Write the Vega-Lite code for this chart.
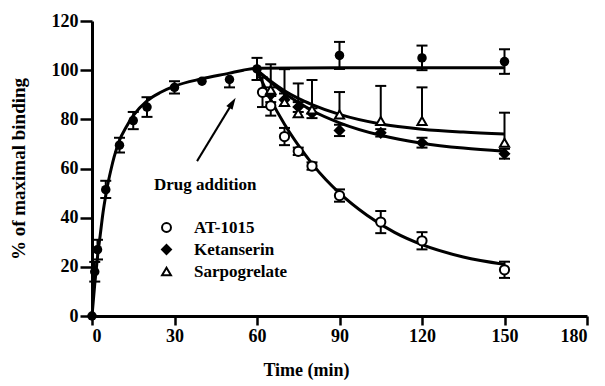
{
  "$schema": "https://vega.github.io/schema/vega-lite/v6.json",
  "width": 495,
  "height": 295,
  "autosize": {"type": "none"},
  "padding": {"left": 92, "top": 21, "right": 18, "bottom": 70},
  "background": "white",
  "config": {
    "view": {"stroke": null},
    "font": "Liberation Serif",
    "axis": {
      "grid": false,
      "domainColor": "black",
      "domainWidth": 3,
      "tickColor": "black",
      "tickWidth": 2.5,
      "labelFont": "Liberation Serif",
      "labelFontWeight": "bold",
      "labelFontSize": 18,
      "labelColor": "black",
      "titleFont": "Liberation Serif",
      "titleFontWeight": "bold",
      "titleColor": "black"
    },
    "legend": {
      "orient": "none",
      "legendX": 66,
      "legendY": 198,
      "title": null,
      "labelFont": "Liberation Serif",
      "labelFontWeight": "bold",
      "labelFontSize": 17,
      "labelColor": "black",
      "symbolStrokeWidth": 2,
      "symbolSize": 80,
      "rowPadding": 4,
      "labelOffset": 19,
      "padding": 0
    }
  },
  "datasets": {
    "pts": [
      {"series": "Control", "t": 0, "y": 0, "lo": 0, "hi": 0},
      {"series": "Control", "t": 1, "y": 18, "lo": 14, "hi": 22},
      {"series": "Control", "t": 2, "y": 27, "lo": 23, "hi": 31},
      {"series": "Control", "t": 5, "y": 51.4, "lo": 48, "hi": 55},
      {"series": "Control", "t": 10, "y": 69.5, "lo": 66.5, "hi": 72.5},
      {"series": "Control", "t": 15, "y": 79.5, "lo": 76, "hi": 83},
      {"series": "Control", "t": 20, "y": 85, "lo": 81, "hi": 89},
      {"series": "Control", "t": 30, "y": 93, "lo": 90.5, "hi": 95.5},
      {"series": "Control", "t": 40, "y": 95.5, "lo": 95.5, "hi": 95.5},
      {"series": "Control", "t": 50, "y": 96.2, "lo": 93, "hi": 96.2},
      {"series": "Control", "t": 60, "y": 100.5, "lo": 96, "hi": 105},
      {"series": "Control", "t": 90, "y": 106, "lo": 100.5, "hi": 111.5},
      {"series": "Control", "t": 120, "y": 105, "lo": 100, "hi": 110},
      {"series": "Control", "t": 150, "y": 103.5, "lo": 98.5, "hi": 108.5},
      {"series": "AT-1015", "t": 62, "y": 91, "lo": 85, "hi": 97},
      {"series": "AT-1015", "t": 65, "y": 85.5, "lo": 81.5, "hi": 89.5},
      {"series": "AT-1015", "t": 70, "y": 73, "lo": 69.5, "hi": 76.5},
      {"series": "AT-1015", "t": 75, "y": 67, "lo": 65.5, "hi": 68.5},
      {"series": "AT-1015", "t": 80, "y": 61, "lo": 59.5, "hi": 62.5},
      {"series": "AT-1015", "t": 90, "y": 49, "lo": 46.5, "hi": 51.5},
      {"series": "AT-1015", "t": 105, "y": 38.2, "lo": 33.7, "hi": 42.7},
      {"series": "AT-1015", "t": 120, "y": 30.6, "lo": 27.1, "hi": 34.1},
      {"series": "AT-1015", "t": 150, "y": 18.8, "lo": 15.5, "hi": 22.1},
      {"series": "Ketanserin", "t": 65, "y": 90, "lo": 87, "hi": 93},
      {"series": "Ketanserin", "t": 70, "y": 88, "lo": 85.5, "hi": 90.5},
      {"series": "Ketanserin", "t": 75, "y": 85, "lo": 83, "hi": 87},
      {"series": "Ketanserin", "t": 80, "y": 82.5, "lo": 80.5, "hi": 84.5},
      {"series": "Ketanserin", "t": 90, "y": 75.5, "lo": 73.2, "hi": 77.8},
      {"series": "Ketanserin", "t": 105, "y": 74.5, "lo": 73, "hi": 76},
      {"series": "Ketanserin", "t": 120, "y": 70.5, "lo": 68.5, "hi": 72.5},
      {"series": "Ketanserin", "t": 150, "y": 66, "lo": 64, "hi": 68},
      {"series": "Sarpogrelate", "t": 65, "y": 92, "lo": 92, "hi": 102.4},
      {"series": "Sarpogrelate", "t": 70, "y": 87, "lo": 87, "hi": 100.4},
      {"series": "Sarpogrelate", "t": 75, "y": 82.5, "lo": 82.5, "hi": 94.6},
      {"series": "Sarpogrelate", "t": 80, "y": 84, "lo": 84, "hi": 96},
      {"series": "Sarpogrelate", "t": 90, "y": 82, "lo": 82, "hi": 91.1},
      {"series": "Sarpogrelate", "t": 105, "y": 79.3, "lo": 79.3, "hi": 93.6},
      {"series": "Sarpogrelate", "t": 120, "y": 79.3, "lo": 79.3, "hi": 93},
      {"series": "Sarpogrelate", "t": 150, "y": 70.5, "lo": 70.5, "hi": 82.7}
    ],
    "fit": [
      {"series": "Control", "t": 0, "y": 0},
      {"series": "Control", "t": 1, "y": 13},
      {"series": "Control", "t": 2, "y": 24},
      {"series": "Control", "t": 3, "y": 33},
      {"series": "Control", "t": 4, "y": 42},
      {"series": "Control", "t": 5, "y": 49},
      {"series": "Control", "t": 6, "y": 55},
      {"series": "Control", "t": 7, "y": 60},
      {"series": "Control", "t": 8, "y": 64.5},
      {"series": "Control", "t": 10, "y": 71.5},
      {"series": "Control", "t": 12.5, "y": 77},
      {"series": "Control", "t": 15, "y": 81.5},
      {"series": "Control", "t": 20, "y": 87.5},
      {"series": "Control", "t": 25, "y": 91},
      {"series": "Control", "t": 30, "y": 93.5},
      {"series": "Control", "t": 40, "y": 96.5},
      {"series": "Control", "t": 50, "y": 98.8},
      {"series": "Control", "t": 55, "y": 100},
      {"series": "Control", "t": 60, "y": 100.8},
      {"series": "Control", "t": 90, "y": 101},
      {"series": "Control", "t": 120, "y": 101},
      {"series": "Control", "t": 150, "y": 101},
      {"series": "AT-1015", "t": 60, "y": 100},
      {"series": "AT-1015", "t": 62, "y": 95},
      {"series": "AT-1015", "t": 65, "y": 88},
      {"series": "AT-1015", "t": 70, "y": 78},
      {"series": "AT-1015", "t": 75, "y": 69.5},
      {"series": "AT-1015", "t": 80, "y": 62},
      {"series": "AT-1015", "t": 85, "y": 55.5},
      {"series": "AT-1015", "t": 90, "y": 50},
      {"series": "AT-1015", "t": 100, "y": 41},
      {"series": "AT-1015", "t": 110, "y": 34},
      {"series": "AT-1015", "t": 120, "y": 29},
      {"series": "AT-1015", "t": 135, "y": 24},
      {"series": "AT-1015", "t": 150, "y": 21},
      {"series": "Ketanserin", "t": 60, "y": 100},
      {"series": "Ketanserin", "t": 65, "y": 95},
      {"series": "Ketanserin", "t": 70, "y": 90.5},
      {"series": "Ketanserin", "t": 75, "y": 87},
      {"series": "Ketanserin", "t": 80, "y": 83.6},
      {"series": "Ketanserin", "t": 90, "y": 78.6},
      {"series": "Ketanserin", "t": 105, "y": 73.5},
      {"series": "Ketanserin", "t": 120, "y": 70.3},
      {"series": "Ketanserin", "t": 135, "y": 68.3},
      {"series": "Ketanserin", "t": 150, "y": 67},
      {"series": "Sarpogrelate", "t": 60, "y": 100},
      {"series": "Sarpogrelate", "t": 65, "y": 95.5},
      {"series": "Sarpogrelate", "t": 70, "y": 91.6},
      {"series": "Sarpogrelate", "t": 75, "y": 88.5},
      {"series": "Sarpogrelate", "t": 80, "y": 86},
      {"series": "Sarpogrelate", "t": 90, "y": 82},
      {"series": "Sarpogrelate", "t": 105, "y": 78.1},
      {"series": "Sarpogrelate", "t": 120, "y": 76},
      {"series": "Sarpogrelate", "t": 135, "y": 74.8},
      {"series": "Sarpogrelate", "t": 150, "y": 74}
    ],
    "arrow": [{"t": 38.2, "y": 63, "t2": 51.1, "y2": 86.7}],
    "note": [{"t": 41.2, "y": 53.1, "label": "Drug addition"}]
  },
  "layer": [
    {
      "data": {"name": "pts"},
      "mark": {"type": "rule", "color": "black", "strokeWidth": 2},
      "encoding": {
        "x": {"field": "t", "type": "quantitative", "scale": {"domain": [0, 180], "nice": false},
              "axis": {"values": [0, 30, 60, 90, 120, 150, 180], "title": "Time (min)", "titleFontSize": 18, "titleX": 214, "titleY": 45, "tickSize": 9, "labelPadding": 2}},
        "y": {"field": "lo", "type": "quantitative", "scale": {"domain": [0, 120], "nice": false},
              "axis": {"values": [0, 20, 40, 60, 80, 100, 120], "title": "% of maximal binding", "titleFontSize": 19, "titleX": -64, "tickSize": 12, "labelPadding": 2}},
        "y2": {"field": "hi"}
      }
    },
    {
      "data": {"name": "pts"},
      "transform": [{"filter": "datum.hi > datum.y"}],
      "mark": {"type": "tick", "orient": "horizontal", "color": "black", "size": 11, "thickness": 2, "opacity": 1},
      "encoding": {
        "x": {"field": "t", "type": "quantitative"},
        "y": {"field": "hi", "type": "quantitative"}
      }
    },
    {
      "data": {"name": "pts"},
      "transform": [{"filter": "datum.lo < datum.y"}],
      "mark": {"type": "tick", "orient": "horizontal", "color": "black", "size": 11, "thickness": 2, "opacity": 1},
      "encoding": {
        "x": {"field": "t", "type": "quantitative"},
        "y": {"field": "lo", "type": "quantitative"}
      }
    },
    {
      "data": {"name": "fit"},
      "mark": {"type": "line", "color": "black", "strokeWidth": 3, "interpolate": "monotone"},
      "encoding": {
        "x": {"field": "t", "type": "quantitative"},
        "y": {"field": "y", "type": "quantitative"},
        "detail": {"field": "series"}
      }
    },
    {
      "data": {"name": "pts"},
      "transform": [{"filter": "datum.series == 'Control'"}],
      "mark": {"type": "point", "shape": "circle", "filled": true, "color": "black", "size": 90, "opacity": 1},
      "encoding": {
        "x": {"field": "t", "type": "quantitative"},
        "y": {"field": "y", "type": "quantitative"}
      }
    },
    {
      "data": {"name": "pts"},
      "transform": [{"filter": "datum.series != 'Control'"}],
      "mark": {"type": "point", "strokeWidth": 2, "size": 85, "opacity": 1, "fillOpacity": 1, "strokeOpacity": 1},
      "encoding": {
        "x": {"field": "t", "type": "quantitative"},
        "y": {"field": "y", "type": "quantitative"},
        "shape": {"field": "series", "type": "nominal",
                  "scale": {"domain": ["AT-1015", "Ketanserin", "Sarpogrelate"], "range": ["circle", "diamond", "triangle-up"]}},
        "fill": {"field": "series", "type": "nominal",
                 "scale": {"domain": ["AT-1015", "Ketanserin", "Sarpogrelate"], "range": ["white", "black", "white"]}},
        "stroke": {"field": "series", "type": "nominal",
                 "scale": {"domain": ["AT-1015", "Ketanserin", "Sarpogrelate"], "range": ["black", "black", "black"]}}
      }
    },
    {
      "data": {"name": "arrow"},
      "mark": {"type": "rule", "color": "black", "strokeWidth": 2},
      "encoding": {
        "x": {"field": "t", "type": "quantitative"},
        "y": {"field": "y", "type": "quantitative"},
        "x2": {"field": "t2"},
        "y2": {"field": "y2"}
      }
    },
    {
      "data": {"name": "arrow"},
      "mark": {"type": "point", "shape": "M0,-1L0.6,1L-0.6,1Z", "filled": true, "color": "black", "size": 144, "angle": 31.4, "opacity": 1},
      "encoding": {
        "x": {"field": "t2", "type": "quantitative"},
        "y": {"field": "y2", "type": "quantitative"}
      }
    },
    {
      "data": {"name": "note"},
      "mark": {"type": "text", "font": "Liberation Serif", "fontWeight": "bold", "fontSize": 17, "align": "center", "baseline": "middle", "color": "black"},
      "encoding": {
        "x": {"field": "t", "type": "quantitative"},
        "y": {"field": "y", "type": "quantitative"},
        "text": {"field": "label"}
      }
    }
  ]
}
